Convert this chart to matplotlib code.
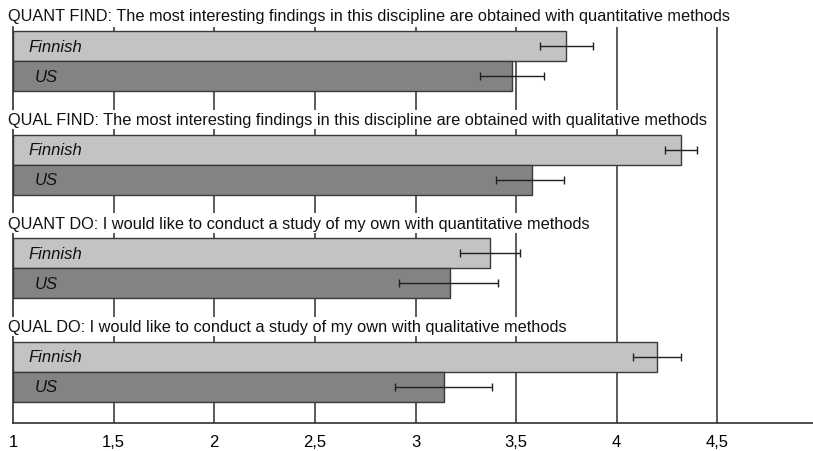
import matplotlib
matplotlib.use("Agg")
import matplotlib.pyplot as plt

# survey items
titles = [
    "QUANT FIND: The most interesting findings in this discipline are obtained with quantitative methods",
    "QUAL FIND: The most interesting findings in this discipline are obtained with qualitative methods",
    "QUANT DO: I would like to conduct a study of my own with quantitative methods",
    "QUAL DO: I would like to conduct a study of my own with qualitative methods",
]
groups = ["Finnish", "US"]

# means and error bar ends
finnish_mean = [3.75, 4.32, 3.37, 4.20]
finnish_lo = [3.62, 4.24, 3.22, 4.08]
finnish_hi = [3.88, 4.40, 3.52, 4.32]
us_mean = [3.48, 3.58, 3.17, 3.14]
us_lo = [3.32, 3.40, 2.92, 2.90]
us_hi = [3.64, 3.74, 3.41, 3.38]

ticks = [1, 1.5, 2, 2.5, 3, 3.5, 4, 4.5, 5]
tick_labels = ["1", "1,5", "2", "2,5", "3", "3,5", "4", "4,5", "5"]

plt.rcParams['font.family'] = ['Liberation Sans', 'DejaVu Sans']

fig = plt.figure(figsize=(8.13, 4.52), dpi=100)
ax = fig.add_axes([13 / 813, 28 / 452, 805 / 813, 424 / 452])
ax.set_xlim(1, 5)
ax.set_ylim(3.64, -0.454)

bh = 0.29
colors = ["#c3c3c3", "#838383"]
means = [finnish_mean, us_mean]
los = [finnish_lo, us_lo]
his = [finnish_hi, us_hi]

# grid lines behind everything
ax.vlines(ticks[1:], -0.18, 3.64, color="#404040", lw=1.2, zorder=0)

for i, t in enumerate(titles):
    ax.text(0.975, i - bh, t, fontsize=11.8, ha="left", va="center", zorder=3,
            color="#111111", bbox=dict(facecolor="white", edgecolor="none", pad=1.5))
    for j in range(2):
        y = i + j * bh
        m = means[j][i]
        ax.barh(y, m - 1, left=1, height=bh, color=colors[j],
                edgecolor="#3a3a3a", lw=1, zorder=2)
        ax.errorbar(m, y, xerr=[[m - los[j][i]], [his[j][i] - m]], fmt="none",
                    ecolor="#202020", elinewidth=1, capsize=3, capthick=1, zorder=4)
        ax.text(1.075 if j == 0 else 1.11, y, groups[j], fontsize=12, style="italic",
                ha="left", va="center", color="#111111", zorder=4)

for s in ["top", "right"]:
    ax.spines[s].set_visible(False)
ax.spines["left"].set_bounds(3.64, -0.18)
ax.spines["left"].set_color("#303030")
ax.spines["bottom"].set_color("#303030")
ax.spines["left"].set_linewidth(1.2)
ax.spines["bottom"].set_linewidth(1.2)
ax.set_yticks([])
ax.set_xticks(ticks)
ax.set_xticklabels(tick_labels, fontsize=12)
for lbl in ax.get_xticklabels():
    lbl.set_fontstretch("condensed")
ax.tick_params(axis="x", length=0, pad=8)

fig.savefig("out.png", dpi=100)
